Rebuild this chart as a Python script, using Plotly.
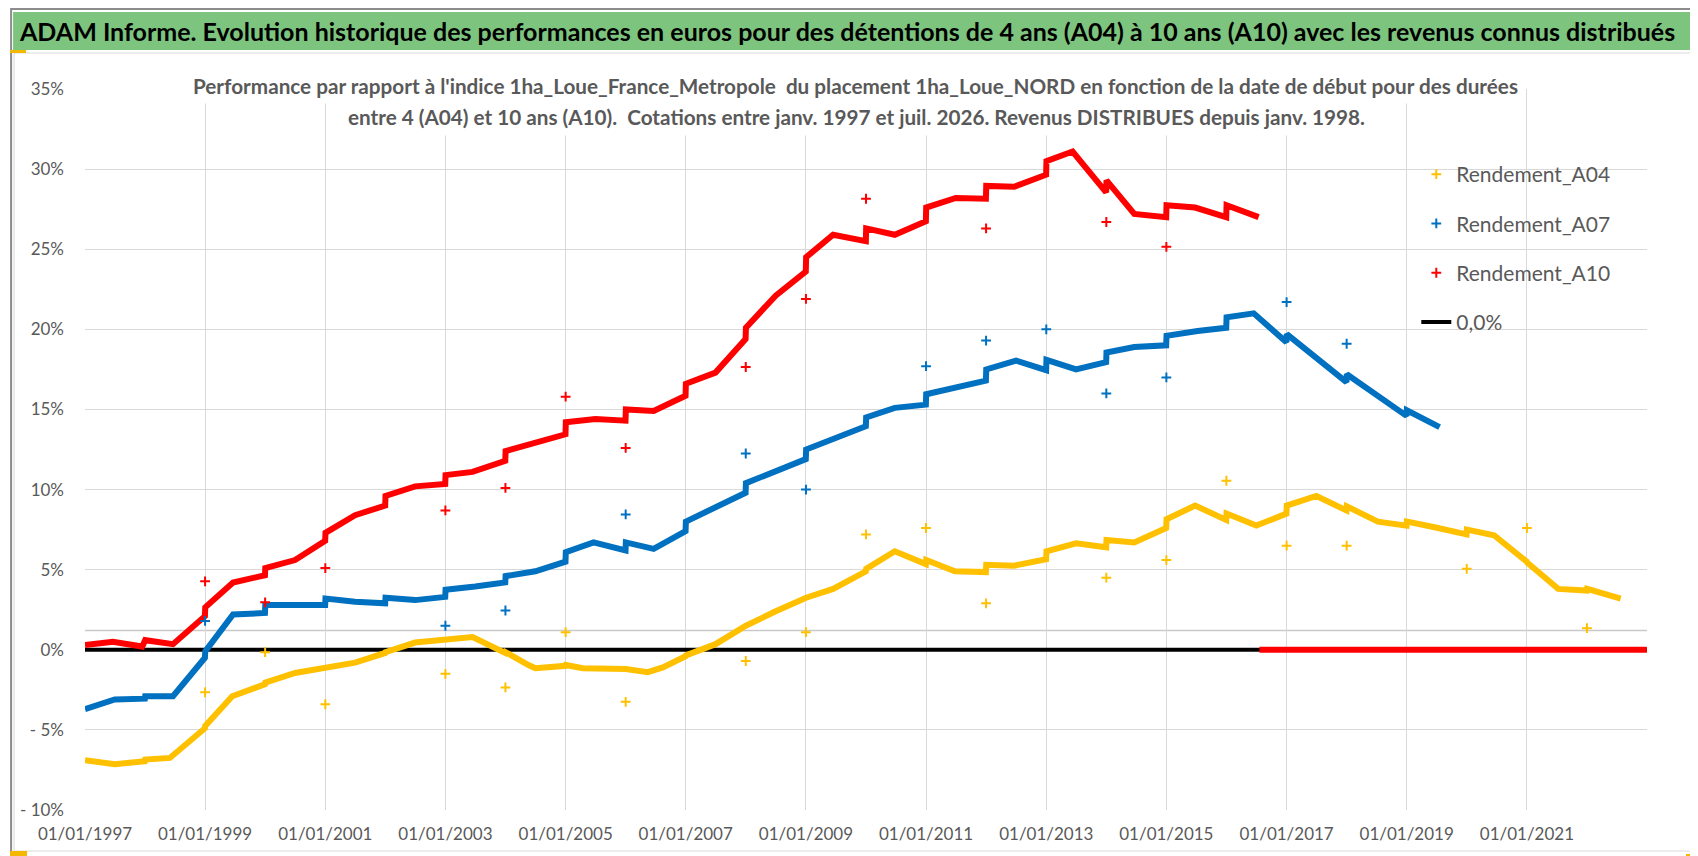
import plotly.graph_objects as go

# --- data (percent) ---
a04_dates = ["1997-01-01", "1997-07-01", "1997-12-31", "1998-01-02", "1998-06-01", "1998-12-31",
             "1999-01-02", "1999-06-15", "1999-12-31", "2000-01-02", "2000-07-01", "2000-12-31",
             "2001-01-02", "2001-07-01", "2001-12-31", "2002-01-02", "2002-07-01", "2002-12-31",
             "2003-01-02", "2003-06-15", "2003-12-31", "2004-01-02", "2004-05-20", "2004-07-01",
             "2004-12-31", "2005-01-02", "2005-04-15", "2005-12-31", "2006-01-02", "2006-05-15",
             "2006-08-15", "2006-12-31", "2007-01-02", "2007-07-01", "2007-12-31", "2008-01-02",
             "2008-07-01", "2008-12-31", "2009-01-02", "2009-06-15", "2009-12-31", "2010-01-02",
             "2010-06-25", "2010-12-31", "2011-01-02", "2011-06-25", "2011-12-31", "2012-01-02",
             "2012-06-20", "2012-12-31", "2013-01-02", "2013-07-01", "2013-12-31", "2014-01-02",
             "2014-06-20", "2014-12-31", "2015-01-02", "2015-06-25", "2015-12-31", "2016-01-02",
             "2016-07-01", "2016-12-31", "2017-01-02", "2017-07-01", "2017-12-31", "2018-01-02",
             "2018-07-10", "2018-12-31", "2019-01-02", "2019-06-20", "2019-12-31", "2020-01-02",
             "2020-06-15", "2020-12-31", "2021-01-02", "2021-07-10", "2021-12-31", "2022-01-02",
             "2022-07-25"]
a04_values = [-6.9, -7.15, -6.95, -6.85, -6.75, -4.9,
              -4.75, -2.9, -2.15, -2.05, -1.45, -1.15,
              -1.1, -0.8, -0.2, -0.15, 0.45, 0.6,
              0.65, 0.8, -0.2, -0.15, -0.95, -1.15,
              -1.0, -0.95, -1.15, -1.25, -1.2, -1.4,
              -1.1, -0.4, -0.35, 0.35, 1.4, 1.5,
              2.4, 3.15, 3.25, 3.8, 4.9, 5.05,
              6.15, 5.35, 5.6, 4.9, 4.85, 5.3,
              5.25, 5.65, 6.15, 6.65, 6.4, 6.85,
              6.7, 7.6, 8.15, 9.0, 8.1, 8.5,
              7.75, 8.5, 9.0, 9.6, 8.7, 8.95,
              8.0, 7.75, 8.0, 7.65, 7.2, 7.5,
              7.15, 5.5, 5.45, 3.8, 3.7, 3.8,
              3.2]

a07_dates = ["1997-01-01", "1997-07-01", "1997-12-31", "1998-01-02", "1998-06-20", "1998-12-31",
             "1999-01-02", "1999-06-20", "1999-12-31", "2000-01-02", "2000-12-31", "2001-01-02",
             "2001-07-01", "2001-12-31", "2002-01-02", "2002-07-01", "2002-12-31", "2003-01-02",
             "2003-07-01", "2003-12-31", "2004-01-02", "2004-07-01", "2004-12-31", "2005-01-02",
             "2005-06-20", "2005-12-31", "2006-01-02", "2006-06-20", "2006-12-31", "2007-01-02",
             "2007-12-31", "2008-01-02", "2008-12-31", "2009-01-02", "2009-12-31", "2010-01-02",
             "2010-06-25", "2010-12-31", "2011-01-02", "2011-12-31", "2012-01-02", "2012-07-01",
             "2012-12-31", "2013-01-02", "2013-07-01", "2013-12-31", "2014-01-02", "2014-06-20",
             "2014-12-31", "2015-01-02", "2015-07-10", "2015-12-31", "2016-01-02", "2016-06-15",
             "2016-12-31", "2017-01-02", "2017-12-31", "2018-01-02", "2018-12-31", "2019-01-02",
             "2019-07-20"]
a07_values = [-3.7, -3.1, -3.05, -2.9, -2.9, -0.5,
              -0.1, 2.2, 2.3, 2.8, 2.8, 3.2,
              3.0, 2.9, 3.25, 3.1, 3.3, 3.75,
              3.95, 4.2, 4.6, 4.9, 5.5, 6.1,
              6.7, 6.2, 6.7, 6.3, 7.4, 8.0,
              9.8, 10.4, 11.9, 12.5, 13.95, 14.5,
              15.1, 15.3, 15.95, 16.8, 17.5, 18.05,
              17.45, 18.1, 17.5, 17.95, 18.55, 18.9,
              19.0, 19.6, 19.9, 20.1, 20.75, 21.0,
              19.2, 19.7, 16.7, 17.2, 14.6, 14.95,
              13.9]

a10_dates = ["1997-01-01", "1997-06-20", "1997-12-15", "1998-01-02", "1998-06-20", "1998-12-31",
             "1999-01-02", "1999-06-20", "1999-12-31", "2000-01-02", "2000-07-01", "2000-12-31",
             "2001-01-02", "2001-07-01", "2001-12-31", "2002-01-02", "2002-07-01", "2002-12-31",
             "2003-01-02", "2003-06-15", "2003-12-31", "2004-01-02", "2004-12-31", "2005-01-02",
             "2005-07-01", "2005-12-31", "2006-01-02", "2006-06-20", "2006-12-31", "2007-01-02",
             "2007-07-01", "2007-12-31", "2008-01-02", "2008-07-01", "2008-12-31", "2009-01-02",
             "2009-06-15", "2009-12-31", "2010-01-02", "2010-06-25", "2010-12-31", "2011-01-02",
             "2011-07-01", "2011-12-31", "2012-01-02", "2012-06-20", "2012-12-31", "2013-01-02",
             "2013-06-10", "2013-12-31", "2014-01-02", "2014-06-20", "2014-12-31", "2015-01-02",
             "2015-06-25", "2015-12-31", "2016-01-02", "2016-07-15",
             "2016-07-18", "2016-07-20", "2022-12-31"]
a10_values = [0.3, 0.5, 0.2, 0.6, 0.35, 2.1,
              2.65, 4.2, 4.65, 5.1, 5.6, 6.8,
              7.3, 8.4, 9.0, 9.6, 10.2, 10.35,
              10.9, 11.1, 11.8, 12.4, 13.45, 14.2,
              14.4, 14.3, 15.0, 14.9, 15.85, 16.6,
              17.3, 19.4, 20.1, 22.1, 23.6, 24.5,
              25.9, 25.5, 26.3, 25.9, 26.75, 27.6,
              28.2, 28.15, 28.95, 28.9, 29.65, 30.5,
              31.1, 28.55, 29.3, 27.2, 27.0, 27.75,
              27.6, 27.0, 27.75, 27.0,
              None, 0.0, 0.0]

# isolated points on 1st January (outliers)
a04_out_dates = ["1999-01-01", "2000-01-01", "2001-01-01", "2003-01-01", "2004-01-01", "2005-01-01",
                 "2006-01-01", "2008-01-01", "2009-01-01", "2010-01-01", "2011-01-01", "2012-01-01",
                 "2014-01-01", "2015-01-01", "2016-01-01", "2017-01-01", "2018-01-01", "2020-01-01",
                 "2021-01-01", "2022-01-01"]
a04_out_values = [-2.65, -0.15, -3.4, -1.5, -2.35, 1.1,
                  -3.25, -0.7, 1.1, 7.2, 7.6, 2.9,
                  4.5, 5.6, 10.55, 6.5, 6.5, 5.05,
                  7.6, 1.35]
a07_out_dates = ["1999-01-01", "2003-01-01", "2004-01-01", "2006-01-01", "2008-01-01", "2009-01-01",
                 "2011-01-01", "2012-01-01", "2013-01-01", "2014-01-01", "2015-01-01", "2017-01-01",
                 "2018-01-01"]
a07_out_values = [1.8, 1.5, 2.45, 8.45, 12.25, 10.0,
                  17.7, 19.3, 20.0, 16.0, 17.0, 21.7,
                  19.1]
a10_out_dates = ["1999-01-01", "2000-01-01", "2001-01-01", "2003-01-01", "2004-01-01", "2005-01-01",
                 "2006-01-01", "2008-01-01", "2009-01-01", "2010-01-01", "2012-01-01", "2014-01-01",
                 "2015-01-01"]
a10_out_values = [4.27, 2.96, 5.1, 8.7, 10.1, 15.8,
                  12.6, 17.65, 21.9, 28.15, 26.3, 26.7,
                  25.15]

zero_dates = ["1997-01-01", "2023-01-01"]
zero_values = [0.0, 0.0]

x_tick_vals = ["1997-01-01", "1999-01-01", "2001-01-01", "2003-01-01", "2005-01-01", "2007-01-01",
               "2009-01-01", "2011-01-01", "2013-01-01", "2015-01-01", "2017-01-01", "2019-01-01",
               "2021-01-01"]
x_tick_text = ["01/01/1997", "01/01/1999", "01/01/2001", "01/01/2003", "01/01/2005", "01/01/2007",
               "01/01/2009", "01/01/2011", "01/01/2013", "01/01/2015", "01/01/2017", "01/01/2019",
               "01/01/2021"]
y_tick_vals = [-10, -5, 0, 5, 10, 15, 20, 25, 30, 35]
y_tick_text = ["- 10%", "- 5%", "0%", "5%", "10%", "15%", "20%", "25%", "30%", "35%"]

title = ("ADAM Informe. Evolution historique des performances en euros pour des détentions "
         "de 4 ans (A04) à 10 ans (A10) avec les revenus connus distribués")
subtitle_1 = ("Performance par rapport à l'indice 1ha_Loue_France_Metropole  du placement 1ha_Loue_NORD "
              "en fonction de la date de début pour des durées")
subtitle_2 = ("entre 4 (A04) et 10 ans (A10).  Cotations entre janv. 1997 et juil. 2026. "
              "Revenus DISTRIBUES depuis janv. 1998.")

YELLOW = "#FFC000"
BLUE = "#0070C0"
RED = "#FF0000"
GRID = "#D9D9D9"
TXT = "#595959"
FONT = "Lato, Carlito, Calibri, sans-serif"

W, H = 1698, 856
ML, MR, MT, MB = 75, 59, 81, 54
PW, PH = W - ML - MR, H - MT - MB


def px(x):
    return (x - ML) / PW


def py(y):
    return (H - MB - y) / PH


fig = go.Figure()

fig.add_trace(go.Scatter(x=zero_dates, y=zero_values, mode="lines", name="0,0%",
                         line=dict(color="black", width=4), legendrank=4, legendgroup="z"))

for dates, vals, col in [(a04_dates, a04_values, YELLOW),
                         (a07_dates, a07_values, BLUE),
                         (a10_dates, a10_values, RED)]:
    fig.add_trace(go.Scatter(x=dates, y=vals, mode="lines", showlegend=False,
                             line=dict(color=col, width=6), connectgaps=False))

for dates, vals, col, name, rank in [(a04_out_dates, a04_out_values, YELLOW, "Rendement_A04", 1),
                                     (a07_out_dates, a07_out_values, BLUE, "Rendement_A07", 2),
                                     (a10_out_dates, a10_out_values, RED, "Rendement_A10", 3)]:
    fig.add_trace(go.Scatter(x=dates, y=vals, mode="markers", name=name, legendrank=rank,
                             legendgroup=name,
                             marker=dict(symbol="cross-thin", size=7, color=col,
                                         line=dict(color=col, width=2))))

shapes = [
    # outer frame and chart area
    dict(type="rect", xref="paper", yref="paper", x0=px(1), x1=px(W - 1), y0=py(H - 1), y1=py(1),
         line=dict(color="#8C8C8C", width=2), layer="below"),
    dict(type="rect", xref="paper", yref="paper", x0=px(4), x1=px(1691), y0=py(843), y1=py(45),
         line=dict(color=GRID, width=1), layer="below"),
    # green title band
    dict(type="rect", xref="paper", yref="paper", x0=px(3), x1=px(1695), y0=py(42), y1=py(4),
         fillcolor="#7DC47F", line=dict(width=0), layer="below"),
    # extra light line a little above zero
    dict(type="line", xref="paper", yref="y", x0=0, x1=1, y0=1.2, y1=1.2,
         line=dict(color="#C9C9C9", width=1.5), layer="below"),
    # white legend background
    dict(type="rect", xref="paper", yref="paper", x0=px(1383), x1=px(1642), y0=py(345), y1=py(147),
         fillcolor="white", line=dict(width=0), layer="between"),
    # excel selection handles
    dict(type="rect", xref="paper", yref="paper", x0=px(0), x1=px(16), y0=py(45), y1=py(42),
         fillcolor="#F5B800", line=dict(width=0)),
    dict(type="rect", xref="paper", yref="paper", x0=px(1692), x1=px(1696), y0=py(62), y1=py(44),
         fillcolor="#F5B800", line=dict(width=0)),
    dict(type="rect", xref="paper", yref="paper", x0=px(0), x1=px(17), y0=py(849), y1=py(843),
         fillcolor="#F5B800", line=dict(width=0)),
    dict(type="rect", xref="paper", yref="paper", x0=px(1692), x1=px(1696), y0=py(850), y1=py(802),
         fillcolor="#F5B800", line=dict(width=0)),
    dict(type="rect", xref="paper", yref="paper", x0=px(1678), x1=px(1696), y0=py(850), y1=py(846),
         fillcolor="#F5B800", line=dict(width=0)),
]

annotations = [
    dict(text="<b>" + title + "</b>", xref="paper", yref="paper", x=px(838), y=py(23),
         xanchor="center", yanchor="middle", showarrow=False,
         font=dict(family=FONT, size=25, color="black")),
    dict(text="<b>" + subtitle_1 + "</b>", xref="paper", yref="paper", x=px(846), y=py(78),
         xanchor="center", yanchor="middle", showarrow=False, bgcolor="white", borderpad=5,
         font=dict(family=FONT, size=20.7, color=TXT)),
    dict(text="<b>" + subtitle_2 + "</b>", xref="paper", yref="paper", x=px(847), y=py(109),
         xanchor="center", yanchor="middle", showarrow=False, bgcolor="white", borderpad=6,
         font=dict(family=FONT, size=20.7, color=TXT)),
]

fig.update_layout(
    width=W, height=H,
    margin=dict(l=ML, r=MR, t=MT, b=MB),
    plot_bgcolor="white", paper_bgcolor="white",
    font=dict(family=FONT, color=TXT),
    shapes=shapes, annotations=annotations,
    showlegend=True,
    legend=dict(x=px(1408), y=py(146), xanchor="left", yanchor="top",
                bgcolor="rgba(0,0,0,0)", font=dict(family=FONT, size=21, color=TXT),
                tracegroupgap=19, itemwidth=30),
    xaxis=dict(type="date", range=["1997-01-01", "2023-01-01"], tickvals=x_tick_vals,
               ticktext=x_tick_text, showgrid=True, gridcolor=GRID, gridwidth=1,
               showline=False, zeroline=False, ticks="", ticklabelstandoff=12,
               tickfont=dict(family=FONT, size=17, color=TXT)),
    yaxis=dict(range=[-10, 35], tickvals=y_tick_vals, ticktext=y_tick_text,
               showgrid=True, gridcolor=GRID, gridwidth=1, showline=False, zeroline=False,
               ticks="", ticklabelstandoff=20, tickfont=dict(family=FONT, size=17, color=TXT)),
)

fig.write_html("out.html")
